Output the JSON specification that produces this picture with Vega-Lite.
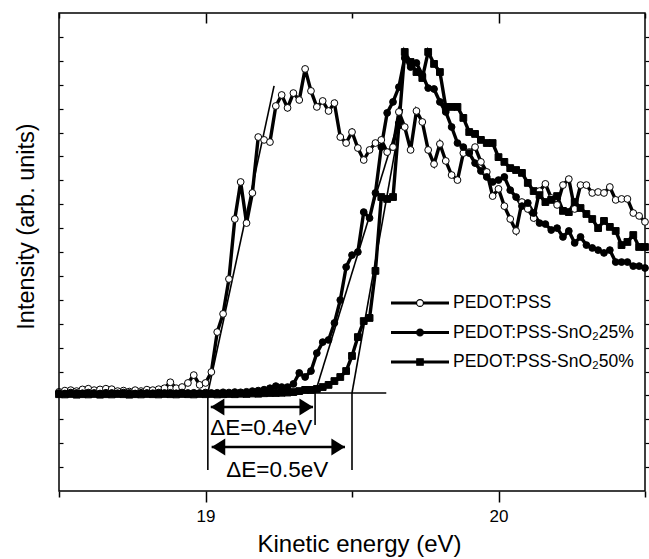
{
 "$schema": "https://vega.github.io/schema/vega-lite/v6.json",
 "width": 586, "height": 478,
 "autosize": {"type": "none"},
 "padding": {"left": 59, "top": 13, "right": 4, "bottom": 68},
 "background": "white",
 "config": {"view": {"stroke": "black", "strokeWidth": 1.5}, "font": "Liberation Sans"},
 "datasets": {
  "spectra": [
   {"x":18.50,"PEDOT:PSS":4.15,"PEDOT:PSS-SnO₂25%":4.10,"PEDOT:PSS-SnO₂50%":4.05},
   {"x":18.52,"PEDOT:PSS":4.20,"PEDOT:PSS-SnO₂25%":4.08,"PEDOT:PSS-SnO₂50%":4.04},
   {"x":18.54,"PEDOT:PSS":4.22,"PEDOT:PSS-SnO₂25%":4.12,"PEDOT:PSS-SnO₂50%":4.06},
   {"x":18.56,"PEDOT:PSS":4.18,"PEDOT:PSS-SnO₂25%":4.10,"PEDOT:PSS-SnO₂50%":4.03},
   {"x":18.58,"PEDOT:PSS":4.25,"PEDOT:PSS-SnO₂25%":4.09,"PEDOT:PSS-SnO₂50%":4.05},
   {"x":18.60,"PEDOT:PSS":4.28,"PEDOT:PSS-SnO₂25%":4.12,"PEDOT:PSS-SnO₂50%":4.04},
   {"x":18.62,"PEDOT:PSS":4.22,"PEDOT:PSS-SnO₂25%":4.10,"PEDOT:PSS-SnO₂50%":4.06},
   {"x":18.64,"PEDOT:PSS":4.25,"PEDOT:PSS-SnO₂25%":4.08,"PEDOT:PSS-SnO₂50%":4.03},
   {"x":18.66,"PEDOT:PSS":4.28,"PEDOT:PSS-SnO₂25%":4.11,"PEDOT:PSS-SnO₂50%":4.05},
   {"x":18.68,"PEDOT:PSS":4.26,"PEDOT:PSS-SnO₂25%":4.10,"PEDOT:PSS-SnO₂50%":4.04},
   {"x":18.70,"PEDOT:PSS":4.18,"PEDOT:PSS-SnO₂25%":4.09,"PEDOT:PSS-SnO₂50%":4.06},
   {"x":18.72,"PEDOT:PSS":4.20,"PEDOT:PSS-SnO₂25%":4.12,"PEDOT:PSS-SnO₂50%":4.05},
   {"x":18.74,"PEDOT:PSS":4.16,"PEDOT:PSS-SnO₂25%":4.10,"PEDOT:PSS-SnO₂50%":4.03},
   {"x":18.76,"PEDOT:PSS":4.22,"PEDOT:PSS-SnO₂25%":4.08,"PEDOT:PSS-SnO₂50%":4.05},
   {"x":18.78,"PEDOT:PSS":4.18,"PEDOT:PSS-SnO₂25%":4.11,"PEDOT:PSS-SnO₂50%":4.04},
   {"x":18.80,"PEDOT:PSS":4.24,"PEDOT:PSS-SnO₂25%":4.10,"PEDOT:PSS-SnO₂50%":4.06},
   {"x":18.82,"PEDOT:PSS":4.22,"PEDOT:PSS-SnO₂25%":4.09,"PEDOT:PSS-SnO₂50%":4.05},
   {"x":18.84,"PEDOT:PSS":4.26,"PEDOT:PSS-SnO₂25%":4.12,"PEDOT:PSS-SnO₂50%":4.04},
   {"x":18.86,"PEDOT:PSS":4.30,"PEDOT:PSS-SnO₂25%":4.10,"PEDOT:PSS-SnO₂50%":4.06},
   {"x":18.88,"PEDOT:PSS":4.55,"PEDOT:PSS-SnO₂25%":4.11,"PEDOT:PSS-SnO₂50%":4.05},
   {"x":18.90,"PEDOT:PSS":4.30,"PEDOT:PSS-SnO₂25%":4.09,"PEDOT:PSS-SnO₂50%":4.04},
   {"x":18.92,"PEDOT:PSS":4.35,"PEDOT:PSS-SnO₂25%":4.12,"PEDOT:PSS-SnO₂50%":4.06},
   {"x":18.94,"PEDOT:PSS":4.52,"PEDOT:PSS-SnO₂25%":4.10,"PEDOT:PSS-SnO₂50%":4.05},
   {"x":18.96,"PEDOT:PSS":4.85,"PEDOT:PSS-SnO₂25%":4.11,"PEDOT:PSS-SnO₂50%":4.04},
   {"x":18.98,"PEDOT:PSS":4.44,"PEDOT:PSS-SnO₂25%":4.10,"PEDOT:PSS-SnO₂50%":4.06},
   {"x":19.00,"PEDOT:PSS":4.52,"PEDOT:PSS-SnO₂25%":4.12,"PEDOT:PSS-SnO₂50%":4.05},
   {"x":19.02,"PEDOT:PSS":4.98,"PEDOT:PSS-SnO₂25%":4.10,"PEDOT:PSS-SnO₂50%":4.06},
   {"x":19.04,"PEDOT:PSS":6.65,"PEDOT:PSS-SnO₂25%":4.11,"PEDOT:PSS-SnO₂50%":4.04},
   {"x":19.06,"PEDOT:PSS":7.41,"PEDOT:PSS-SnO₂25%":4.13,"PEDOT:PSS-SnO₂50%":4.05},
   {"x":19.08,"PEDOT:PSS":8.87,"PEDOT:PSS-SnO₂25%":4.12,"PEDOT:PSS-SnO₂50%":4.06},
   {"x":19.10,"PEDOT:PSS":11.38,"PEDOT:PSS-SnO₂25%":4.14,"PEDOT:PSS-SnO₂50%":4.05},
   {"x":19.12,"PEDOT:PSS":12.93,"PEDOT:PSS-SnO₂25%":4.13,"PEDOT:PSS-SnO₂50%":4.07},
   {"x":19.14,"PEDOT:PSS":11.21,"PEDOT:PSS-SnO₂25%":4.15,"PEDOT:PSS-SnO₂50%":4.06},
   {"x":19.16,"PEDOT:PSS":12.47,"PEDOT:PSS-SnO₂25%":4.18,"PEDOT:PSS-SnO₂50%":4.08},
   {"x":19.18,"PEDOT:PSS":14.81,"PEDOT:PSS-SnO₂25%":4.20,"PEDOT:PSS-SnO₂50%":4.07},
   {"x":19.20,"PEDOT:PSS":14.69,"PEDOT:PSS-SnO₂25%":4.24,"PEDOT:PSS-SnO₂50%":4.09},
   {"x":19.22,"PEDOT:PSS":14.60,"PEDOT:PSS-SnO₂25%":4.30,"PEDOT:PSS-SnO₂50%":4.10},
   {"x":19.24,"PEDOT:PSS":16.11,"PEDOT:PSS-SnO₂25%":4.39,"PEDOT:PSS-SnO₂50%":4.10},
   {"x":19.26,"PEDOT:PSS":16.57,"PEDOT:PSS-SnO₂25%":4.35,"PEDOT:PSS-SnO₂50%":4.11},
   {"x":19.28,"PEDOT:PSS":16.03,"PEDOT:PSS-SnO₂25%":4.35,"PEDOT:PSS-SnO₂50%":4.12},
   {"x":19.30,"PEDOT:PSS":16.65,"PEDOT:PSS-SnO₂25%":4.48,"PEDOT:PSS-SnO₂50%":4.14},
   {"x":19.32,"PEDOT:PSS":16.36,"PEDOT:PSS-SnO₂25%":4.94,"PEDOT:PSS-SnO₂50%":4.18},
   {"x":19.34,"PEDOT:PSS":17.66,"PEDOT:PSS-SnO₂25%":4.77,"PEDOT:PSS-SnO₂50%":4.23},
   {"x":19.36,"PEDOT:PSS":16.74,"PEDOT:PSS-SnO₂25%":5.02,"PEDOT:PSS-SnO₂50%":4.23},
   {"x":19.38,"PEDOT:PSS":16.07,"PEDOT:PSS-SnO₂25%":5.77,"PEDOT:PSS-SnO₂50%":4.27},
   {"x":19.40,"PEDOT:PSS":16.32,"PEDOT:PSS-SnO₂25%":6.23,"PEDOT:PSS-SnO₂50%":4.35},
   {"x":19.42,"PEDOT:PSS":15.90,"PEDOT:PSS-SnO₂25%":6.32,"PEDOT:PSS-SnO₂50%":4.44},
   {"x":19.44,"PEDOT:PSS":16.23,"PEDOT:PSS-SnO₂25%":7.03,"PEDOT:PSS-SnO₂50%":4.60},
   {"x":19.46,"PEDOT:PSS":14.81,"PEDOT:PSS-SnO₂25%":7.99,"PEDOT:PSS-SnO₂50%":4.77},
   {"x":19.48,"PEDOT:PSS":14.56,"PEDOT:PSS-SnO₂25%":9.37,"PEDOT:PSS-SnO₂50%":5.02},
   {"x":19.50,"PEDOT:PSS":15.02,"PEDOT:PSS-SnO₂25%":9.87,"PEDOT:PSS-SnO₂50%":5.65},
   {"x":19.52,"PEDOT:PSS":14.35,"PEDOT:PSS-SnO₂25%":10.00,"PEDOT:PSS-SnO₂50%":6.44},
   {"x":19.54,"PEDOT:PSS":13.85,"PEDOT:PSS-SnO₂25%":11.67,"PEDOT:PSS-SnO₂50%":7.11},
   {"x":19.56,"PEDOT:PSS":14.27,"PEDOT:PSS-SnO₂25%":11.42,"PEDOT:PSS-SnO₂50%":7.24},
   {"x":19.58,"PEDOT:PSS":14.56,"PEDOT:PSS-SnO₂25%":12.47,"PEDOT:PSS-SnO₂50%":9.21},
   {"x":19.60,"PEDOT:PSS":14.69,"PEDOT:PSS-SnO₂25%":14.39,"PEDOT:PSS-SnO₂50%":12.30},
   {"x":19.62,"PEDOT:PSS":14.18,"PEDOT:PSS-SnO₂25%":15.82,"PEDOT:PSS-SnO₂50%":12.22},
   {"x":19.64,"PEDOT:PSS":14.39,"PEDOT:PSS-SnO₂25%":16.28,"PEDOT:PSS-SnO₂50%":12.30},
   {"x":19.66,"PEDOT:PSS":15.86,"PEDOT:PSS-SnO₂25%":16.90,"PEDOT:PSS-SnO₂50%":15.31},
   {"x":19.68,"PEDOT:PSS":15.23,"PEDOT:PSS-SnO₂25%":18.12,"PEDOT:PSS-SnO₂50%":18.37},
   {"x":19.70,"PEDOT:PSS":14.27,"PEDOT:PSS-SnO₂25%":17.74,"PEDOT:PSS-SnO₂50%":17.95},
   {"x":19.72,"PEDOT:PSS":15.90,"PEDOT:PSS-SnO₂25%":17.91,"PEDOT:PSS-SnO₂50%":17.53},
   {"x":19.74,"PEDOT:PSS":15.44,"PEDOT:PSS-SnO₂25%":17.41,"PEDOT:PSS-SnO₂50%":17.28},
   {"x":19.76,"PEDOT:PSS":14.27,"PEDOT:PSS-SnO₂25%":16.86,"PEDOT:PSS-SnO₂50%":18.37},
   {"x":19.78,"PEDOT:PSS":13.68,"PEDOT:PSS-SnO₂25%":16.82,"PEDOT:PSS-SnO₂50%":17.87},
   {"x":19.80,"PEDOT:PSS":14.52,"PEDOT:PSS-SnO₂25%":16.28,"PEDOT:PSS-SnO₂50%":17.53},
   {"x":19.82,"PEDOT:PSS":13.81,"PEDOT:PSS-SnO₂25%":15.86,"PEDOT:PSS-SnO₂50%":16.07},
   {"x":19.84,"PEDOT:PSS":13.22,"PEDOT:PSS-SnO₂25%":15.23,"PEDOT:PSS-SnO₂50%":16.07},
   {"x":19.86,"PEDOT:PSS":13.01,"PEDOT:PSS-SnO₂25%":14.56,"PEDOT:PSS-SnO₂50%":16.07},
   {"x":19.88,"PEDOT:PSS":14.14,"PEDOT:PSS-SnO₂25%":14.39,"PEDOT:PSS-SnO₂50%":15.61},
   {"x":19.90,"PEDOT:PSS":14.18,"PEDOT:PSS-SnO₂25%":14.14,"PEDOT:PSS-SnO₂50%":15.02},
   {"x":19.92,"PEDOT:PSS":14.39,"PEDOT:PSS-SnO₂25%":13.72,"PEDOT:PSS-SnO₂50%":14.94},
   {"x":19.94,"PEDOT:PSS":13.77,"PEDOT:PSS-SnO₂25%":13.39,"PEDOT:PSS-SnO₂50%":14.69},
   {"x":19.96,"PEDOT:PSS":13.35,"PEDOT:PSS-SnO₂25%":13.14,"PEDOT:PSS-SnO₂50%":14.56},
   {"x":19.98,"PEDOT:PSS":12.34,"PEDOT:PSS-SnO₂25%":12.93,"PEDOT:PSS-SnO₂50%":14.56},
   {"x":20.00,"PEDOT:PSS":12.64,"PEDOT:PSS-SnO₂25%":13.01,"PEDOT:PSS-SnO₂50%":13.97},
   {"x":20.02,"PEDOT:PSS":11.92,"PEDOT:PSS-SnO₂25%":13.14,"PEDOT:PSS-SnO₂50%":13.77},
   {"x":20.04,"PEDOT:PSS":11.38,"PEDOT:PSS-SnO₂25%":12.59,"PEDOT:PSS-SnO₂50%":13.51},
   {"x":20.06,"PEDOT:PSS":10.88,"PEDOT:PSS-SnO₂25%":12.30,"PEDOT:PSS-SnO₂50%":13.43},
   {"x":20.08,"PEDOT:PSS":12.09,"PEDOT:PSS-SnO₂25%":11.92,"PEDOT:PSS-SnO₂50%":13.31},
   {"x":20.10,"PEDOT:PSS":11.80,"PEDOT:PSS-SnO₂25%":12.05,"PEDOT:PSS-SnO₂50%":12.89},
   {"x":20.12,"PEDOT:PSS":11.42,"PEDOT:PSS-SnO₂25%":11.63,"PEDOT:PSS-SnO₂50%":12.55},
   {"x":20.14,"PEDOT:PSS":12.55,"PEDOT:PSS-SnO₂25%":11.21,"PEDOT:PSS-SnO₂50%":12.38},
   {"x":20.16,"PEDOT:PSS":12.85,"PEDOT:PSS-SnO₂25%":11.17,"PEDOT:PSS-SnO₂50%":12.09},
   {"x":20.18,"PEDOT:PSS":12.26,"PEDOT:PSS-SnO₂25%":10.92,"PEDOT:PSS-SnO₂50%":12.18},
   {"x":20.20,"PEDOT:PSS":11.97,"PEDOT:PSS-SnO₂25%":11.00,"PEDOT:PSS-SnO₂50%":12.34},
   {"x":20.22,"PEDOT:PSS":12.80,"PEDOT:PSS-SnO₂25%":10.63,"PEDOT:PSS-SnO₂50%":11.72},
   {"x":20.24,"PEDOT:PSS":13.05,"PEDOT:PSS-SnO₂25%":10.88,"PEDOT:PSS-SnO₂50%":11.67},
   {"x":20.26,"PEDOT:PSS":11.80,"PEDOT:PSS-SnO₂25%":10.38,"PEDOT:PSS-SnO₂50%":12.09},
   {"x":20.28,"PEDOT:PSS":12.80,"PEDOT:PSS-SnO₂25%":10.63,"PEDOT:PSS-SnO₂50%":11.84},
   {"x":20.30,"PEDOT:PSS":12.80,"PEDOT:PSS-SnO₂25%":10.29,"PEDOT:PSS-SnO₂50%":11.59},
   {"x":20.32,"PEDOT:PSS":12.47,"PEDOT:PSS-SnO₂25%":10.17,"PEDOT:PSS-SnO₂50%":11.38},
   {"x":20.34,"PEDOT:PSS":12.51,"PEDOT:PSS-SnO₂25%":10.08,"PEDOT:PSS-SnO₂50%":11.00},
   {"x":20.36,"PEDOT:PSS":12.47,"PEDOT:PSS-SnO₂25%":9.96,"PEDOT:PSS-SnO₂50%":11.30},
   {"x":20.38,"PEDOT:PSS":12.72,"PEDOT:PSS-SnO₂25%":10.08,"PEDOT:PSS-SnO₂50%":11.05},
   {"x":20.40,"PEDOT:PSS":12.18,"PEDOT:PSS-SnO₂25%":9.58,"PEDOT:PSS-SnO₂50%":10.88},
   {"x":20.42,"PEDOT:PSS":12.22,"PEDOT:PSS-SnO₂25%":9.58,"PEDOT:PSS-SnO₂50%":10.29},
   {"x":20.44,"PEDOT:PSS":12.22,"PEDOT:PSS-SnO₂25%":9.58,"PEDOT:PSS-SnO₂50%":10.42},
   {"x":20.46,"PEDOT:PSS":11.63,"PEDOT:PSS-SnO₂25%":9.41,"PEDOT:PSS-SnO₂50%":10.71},
   {"x":20.48,"PEDOT:PSS":11.51,"PEDOT:PSS-SnO₂25%":9.41,"PEDOT:PSS-SnO₂50%":10.21},
   {"x":20.50,"PEDOT:PSS":11.26,"PEDOT:PSS-SnO₂25%":9.33,"PEDOT:PSS-SnO₂50%":10.21}
  ],
  "guides": [
   {"x":18.5,"y":4.1,"x2":19.617,"y2":4.1},
   {"x":19.008,"y":4.1,"x2":19.234,"y2":16.95},
   {"x":19.374,"y":4.1,"x2":19.672,"y2":15.98},
   {"x":19.5,"y":4.1,"x2":19.672,"y2":15.98},
   {"x":19.008,"y":4.1,"x2":19.008,"y2":0.88},
   {"x":19.374,"y":4.1,"x2":19.374,"y2":2.76},
   {"x":19.5,"y":4.1,"x2":19.5,"y2":0.88}
  ],
  "arrows": [
   {"x":19.018,"x2":19.367,"y":3.51},
   {"x":19.021,"x2":19.476,"y":1.84}
  ],
  "notes": [
   {"label":"ΔE=0.4eV","x":19.016,"y":2.64},
   {"label":"ΔE=0.5eV","x":19.071,"y":0.88}
  ]
 },
 "resolve": {"axis": {"x": "independent", "y": "independent"}, "scale": {"shape": "independent", "fill": "independent", "stroke": "independent"}},
 "layer": [
  {
   "data": {"name": "guides"},
   "mark": {"type": "rule", "color": "black", "strokeWidth": 1.6},
   "encoding": {
    "x": {"field": "x", "type": "quantitative", "scale": {"domain": [18.5, 20.5], "nice": false, "zero": false},
      "axis": {"orient": "bottom", "values": [18.5, 19, 19.5, 20, 20.5], "labelExpr": "datum.value == 19 ? '19' : datum.value == 20 ? '20' : ''",
        "tickSize": {"condition": {"test": "datum.value % 1 === 0", "value": 11}, "value": 6},
        "tickWidth": 1.5, "tickColor": "black", "domain": false, "grid": false,
        "labelFont": "Liberation Sans", "labelFontSize": 17, "labelColor": "black", "labelPadding": 6, "labelFlush": false,
        "title": "Kinetic energy (eV)", "titleFont": "Liberation Sans", "titleFontSize": 24, "titleFontWeight": "normal", "titleColor": "black",
        "titleX": 300, "titleY": 53, "titleBaseline": "middle", "titleAnchor": null}},
    "y": {"field": "y", "type": "quantitative", "scale": {"domain": [0, 20], "nice": false, "zero": false},
      "axis": {"orient": "left", "values": [1,2,3,4,5,6,7,8,9,10,11,12,13,14,15,16,17,18,19], "labels": false, "tickSize": -4, "tickWidth": 1.2, "tickColor": "black", "domain": false, "grid": false,
        "title": "Intensity (arb. units)", "titleFont": "Liberation Sans", "titleFontSize": 23.5, "titleFontWeight": "normal", "titleColor": "black",
        "titleX": -33, "titleY": 213, "titleAngle": -90, "titleBaseline": "middle", "titleAlign": "center"}},
    "x2": {"field": "x2"},
    "y2": {"field": "y2"}
   }
  },
  {
   "data": {"name": "spectra"},
   "transform": [{"fold": ["PEDOT:PSS", "PEDOT:PSS-SnO₂25%", "PEDOT:PSS-SnO₂50%"], "as": ["series", "y"]}],
   "mark": {"type": "line", "color": "black", "strokeWidth": 3.4},
   "encoding": {
    "x": {"field": "x", "type": "quantitative", "scale": {"domain": [18.5, 20.5], "nice": false, "zero": false},
      "axis": {"orient": "top", "values": [18.5, 19, 19.5, 20, 20.5], "labels": false, "title": null,
        "tickSize": {"condition": {"test": "datum.value % 1 === 0", "value": -10}, "value": -5},
        "tickWidth": 1.5, "tickColor": "black", "domain": false, "grid": false}},
    "y": {"field": "y", "type": "quantitative", "scale": {"domain": [0, 20], "nice": false, "zero": false},
      "axis": {"orient": "right", "values": [1,2,3,4,5,6,7,8,9,10,11,12,13,14,15,16,17,18,19], "labels": false, "title": null, "tickSize": 4, "tickWidth": 1.2, "tickColor": "black", "domain": false, "grid": false}},
    "detail": {"field": "series"}
   }
  },
  {
   "data": {"name": "spectra"},
   "transform": [{"fold": ["PEDOT:PSS", "PEDOT:PSS-SnO₂25%", "PEDOT:PSS-SnO₂50%"], "as": ["series", "y"]}],
   "mark": {"type": "point", "filled": true, "stroke": "black", "strokeWidth": 1, "size": 46, "opacity": 1},
   "encoding": {
    "x": {"field": "x", "type": "quantitative", "scale": {"domain": [18.5, 20.5], "nice": false, "zero": false}, "axis": null},
    "y": {"field": "y", "type": "quantitative", "scale": {"domain": [0, 20], "nice": false, "zero": false}, "axis": null},
    "shape": {"field": "series", "type": "nominal",
      "scale": {"domain": ["PEDOT:PSS", "PEDOT:PSS-SnO₂25%", "PEDOT:PSS-SnO₂50%"], "range": ["circle", "circle", "square"]}, "legend": null},
    "fill": {"field": "series", "type": "nominal",
      "scale": {"domain": ["PEDOT:PSS", "PEDOT:PSS-SnO₂25%", "PEDOT:PSS-SnO₂50%"], "range": ["white", "black", "black"]}, "legend": null}
   }
  },
  {
   "data": {"name": "spectra"},
   "transform": [{"fold": ["PEDOT:PSS", "PEDOT:PSS-SnO₂25%", "PEDOT:PSS-SnO₂50%"], "as": ["series", "y"]}, {"filter": "false"}],
   "mark": {"type": "point", "filled": true, "strokeWidth": 1.2, "size": 400, "opacity": 1},
   "encoding": {
    "x": {"field": "x", "type": "quantitative", "scale": {"domain": [18.5, 20.5], "nice": false, "zero": false}, "axis": null},
    "y": {"field": "y", "type": "quantitative", "scale": {"domain": [0, 20], "nice": false, "zero": false}, "axis": null},
    "shape": {"field": "series", "type": "nominal",
      "scale": {"domain": ["PEDOT:PSS", "PEDOT:PSS-SnO₂25%", "PEDOT:PSS-SnO₂50%"], "range": [
        "M-2.9,-0.09H-0.34M-2.9,0H-0.34M-2.9,0.09H-0.34M0.34,-0.09H2.9M0.34,0H2.9M0.34,0.09H2.9M0.345,0C0.345,0.1905 0.1905,0.345 0,0.345C-0.1905,0.345 -0.345,0.1905 -0.345,0C-0.345,-0.1905 -0.1905,-0.345 0,-0.345C0.1905,-0.345 0.345,-0.1905 0.345,0Z",
        "M-2.9,-0.09H-0.34M-2.9,0H-0.34M-2.9,0.09H-0.34M0.34,-0.09H2.9M0.34,0H2.9M0.34,0.09H2.9M0.345,0C0.345,0.1905 0.1905,0.345 0,0.345C-0.1905,0.345 -0.345,0.1905 -0.345,0C-0.345,-0.1905 -0.1905,-0.345 0,-0.345C0.1905,-0.345 0.345,-0.1905 0.345,0Z",
        "M-2.9,-0.09H-0.32M-2.9,0H-0.32M-2.9,0.09H-0.32M0.32,-0.09H2.9M0.32,0H2.9M0.32,0.09H2.9M-0.32,-0.32H0.32V0.32H-0.32Z"]},
      "legend": {"orient": "none", "legendX": 350, "legendY": 279, "title": null, "padding": 0, "rowPadding": 9.5,
        "labelFont": "Liberation Sans", "labelFontSize": 17.5, "labelColor": "black", "labelOffset": 22, "labelLimit": 400,
        "symbolSize": 400, "symbolStrokeWidth": 1.2, "symbolOpacity": 1}},
    "fill": {"field": "series", "type": "nominal",
      "scale": {"domain": ["PEDOT:PSS", "PEDOT:PSS-SnO₂25%", "PEDOT:PSS-SnO₂50%"], "range": ["white", "black", "black"]},
      "legend": {"orient": "none", "legendX": 350, "legendY": 279, "title": null, "padding": 0, "rowPadding": 9.5,
        "labelFont": "Liberation Sans", "labelFontSize": 17.5, "labelColor": "black", "labelOffset": 22, "labelLimit": 400,
        "symbolSize": 400, "symbolStrokeWidth": 1.2, "symbolOpacity": 1}},
    "stroke": {"field": "series", "type": "nominal",
      "scale": {"domain": ["PEDOT:PSS", "PEDOT:PSS-SnO₂25%", "PEDOT:PSS-SnO₂50%"], "range": ["black", "black", "black"]},
      "legend": {"orient": "none", "legendX": 350, "legendY": 279, "title": null, "padding": 0, "rowPadding": 9.5,
        "labelFont": "Liberation Sans", "labelFontSize": 17.5, "labelColor": "black", "labelOffset": 22, "labelLimit": 400,
        "symbolSize": 400, "symbolStrokeWidth": 1.2, "symbolOpacity": 1}}
   }
  },
  {
   "data": {"name": "arrows"},
   "mark": {"type": "rule", "color": "black", "strokeWidth": 2.5},
   "encoding": {
    "x": {"field": "x", "type": "quantitative", "scale": {"domain": [18.5, 20.5], "nice": false, "zero": false}, "axis": null},
    "x2": {"field": "x2"},
    "y": {"field": "y", "type": "quantitative", "scale": {"domain": [0, 20], "nice": false, "zero": false}, "axis": null}
   }
  },
  {
   "data": {"name": "arrows"},
   "mark": {"type": "point", "shape": "M0,0L1.6,-1L1.6,1Z", "filled": true, "color": "black", "size": 289, "opacity": 1, "strokeWidth": 0},
   "encoding": {
    "x": {"field": "x", "type": "quantitative", "scale": {"domain": [18.5, 20.5], "nice": false, "zero": false}, "axis": null},
    "y": {"field": "y", "type": "quantitative", "scale": {"domain": [0, 20], "nice": false, "zero": false}, "axis": null}
   }
  },
  {
   "data": {"name": "arrows"},
   "mark": {"type": "point", "shape": "M0,0L-1.6,-1L-1.6,1Z", "filled": true, "color": "black", "size": 289, "opacity": 1, "strokeWidth": 0},
   "encoding": {
    "x": {"field": "x2", "type": "quantitative", "scale": {"domain": [18.5, 20.5], "nice": false, "zero": false}, "axis": null},
    "y": {"field": "y", "type": "quantitative", "scale": {"domain": [0, 20], "nice": false, "zero": false}, "axis": null}
   }
  },
  {
   "data": {"name": "notes"},
   "mark": {"type": "text", "align": "left", "baseline": "middle", "font": "Liberation Sans", "fontSize": 22.5, "color": "black"},
   "encoding": {
    "x": {"field": "x", "type": "quantitative", "scale": {"domain": [18.5, 20.5], "nice": false, "zero": false}, "axis": null},
    "y": {"field": "y", "type": "quantitative", "scale": {"domain": [0, 20], "nice": false, "zero": false}, "axis": null},
    "text": {"field": "label"}
   }
  }
 ]
}
